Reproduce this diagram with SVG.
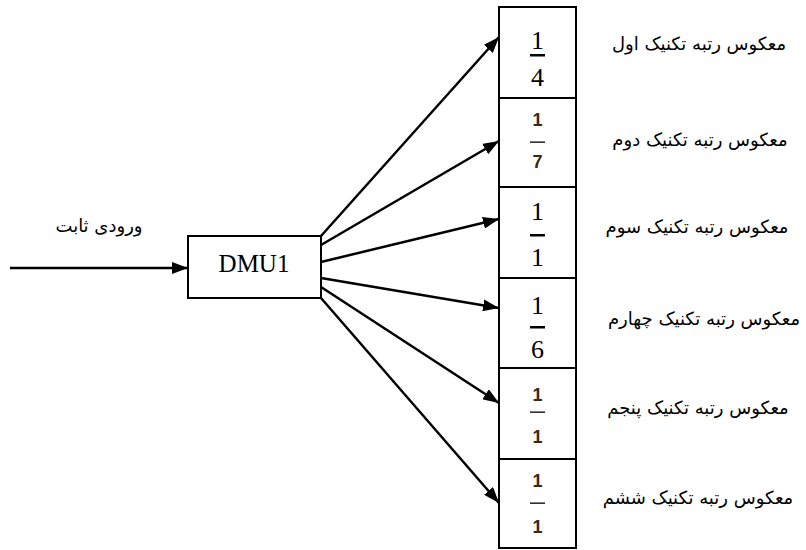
<svg xmlns="http://www.w3.org/2000/svg" width="806" height="550" viewBox="0 0 806 550">
<style>
.box{fill:#fff;stroke:#000;stroke-width:2}
.ln{stroke:#000;stroke-width:2.5;fill:none}
.fa{font-family:"DejaVu Sans",sans-serif;font-size:18px;fill:#000}
.num{font-family:"Liberation Serif",serif;font-size:26px;fill:#000;text-anchor:middle}
.nums{font-family:"Liberation Sans",sans-serif;font-size:18px;font-weight:bold;fill:#3a2a10;text-anchor:middle}
.dmu{font-family:"Liberation Serif",serif;font-size:25px;fill:#000;text-anchor:middle}
</style>
<defs>
<marker id="ah" viewBox="0 0 16 12" refX="16" refY="6" markerWidth="16" markerHeight="12" markerUnits="userSpaceOnUse" orient="auto">
<path d="M0,0 L16,6 L0,12 z" fill="#000"/>
</marker>
</defs>
<g id="connectors">
<line class="ln" x1="10" y1="268" x2="188" y2="268" marker-end="url(#ah)"/>
<line class="ln" x1="321" y1="236" x2="499" y2="37" marker-end="url(#ah)"/>
<line class="ln" x1="321" y1="245" x2="499" y2="141" marker-end="url(#ah)"/>
<line class="ln" x1="321" y1="262" x2="499" y2="219" marker-end="url(#ah)"/>
<line class="ln" x1="321" y1="278" x2="499" y2="308" marker-end="url(#ah)"/>
<line class="ln" x1="321" y1="287" x2="499" y2="403" marker-end="url(#ah)"/>
<line class="ln" x1="321" y1="298" x2="499" y2="503" marker-end="url(#ah)"/>
</g>
<g id="input-label">
<text class="fa" x="99" y="232" text-anchor="middle">ورودی ثابت</text>
</g>
<g id="dmu1">
<rect class="box" x="188" y="236" width="133" height="62"/>
<text class="dmu" x="254" y="272">DMU1</text>
</g>
<g id="cell1">
<rect class="box" x="499" y="7" width="77" height="91"/>
<text class="num" x="537.5" y="49">1</text>
<rect x="530" y="54" width="15" height="2.5" fill="#000"/>
<text class="num" x="537.5" y="86">4</text>
</g>
<g id="cell2">
<rect class="box" x="499" y="98" width="77" height="89"/>
<text class="nums" x="537.5" y="126">1</text>
<rect x="530" y="141.5" width="15" height="1.3" fill="#000"/>
<text class="nums" x="537.5" y="168">7</text>
</g>
<g id="cell3">
<rect class="box" x="499" y="187" width="77" height="91"/>
<text class="num" x="537.5" y="220">1</text>
<rect x="530" y="234" width="15" height="2.5" fill="#000"/>
<text class="num" x="537.5" y="266">1</text>
</g>
<g id="cell4">
<rect class="box" x="499" y="278" width="77" height="90"/>
<text class="num" x="537.5" y="314">1</text>
<rect x="530" y="326" width="15" height="2.5" fill="#000"/>
<text class="num" x="537.5" y="358">6</text>
</g>
<g id="cell5">
<rect class="box" x="499" y="368" width="77" height="91"/>
<text class="nums" x="537.5" y="401">1</text>
<rect x="530" y="411.5" width="15" height="1.3" fill="#000"/>
<text class="nums" x="537.5" y="443">1</text>
</g>
<g id="cell6">
<rect class="box" x="499" y="459" width="77" height="89"/>
<text class="nums" x="537.5" y="487">1</text>
<rect x="530" y="502.5" width="15" height="1.3" fill="#000"/>
<text class="nums" x="537.5" y="533">1</text>
</g>
<g id="labels">
<text class="fa" x="699" y="50" text-anchor="middle">معکوس رتبه تکنیک اول</text>
<text class="fa" x="700" y="146" text-anchor="middle">معکوس رتبه تکنیک دوم</text>
<text class="fa" x="697" y="233" text-anchor="middle">معکوس رتبه تکنیک سوم</text>
<text class="fa" x="704" y="325" text-anchor="middle">معکوس رتبه تکنیک چهارم</text>
<text class="fa" x="698" y="414" text-anchor="middle">معکوس رتبه تکنیک پنجم</text>
<text class="fa" x="698" y="504" text-anchor="middle">معکوس رتبه تکنیک ششم</text>
</g>
</svg>
